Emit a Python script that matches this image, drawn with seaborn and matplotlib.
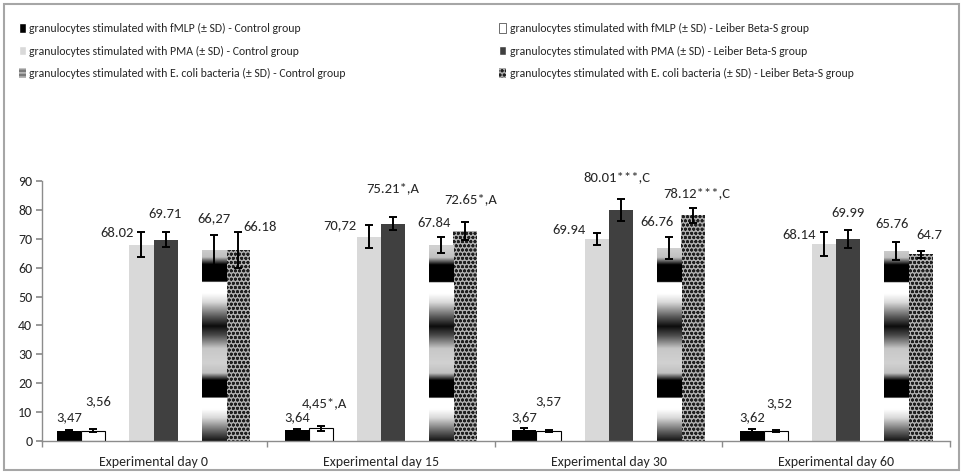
import numpy as np
import pandas as pd
import matplotlib.pyplot as plt
import seaborn as sns
from matplotlib.patches import Patch, Rectangle

sns.set_theme(style='white')
plt.rcParams['font.family'] = ['Carlito', 'Lato', 'DejaVu Sans']
plt.rcParams['hatch.linewidth'] = 0.9

days = ['Experimental day 0', 'Experimental day 15', 'Experimental day 30', 'Experimental day 60']

series = [
    'granulocytes stimulated with fMLP (± SD) - Control group',
    'granulocytes stimulated with fMLP (± SD) - Leiber Beta-S group',
    'granulocytes stimulated with PMA (± SD) - Control group',
    'granulocytes stimulated with PMA (± SD) - Leiber Beta-S group',
    'granulocytes stimulated with E. coli bacteria (± SD) - Control group',
    'granulocytes stimulated with E. coli bacteria (± SD) - Leiber Beta-S group',
]

fmlp_control = [3.47, 3.64, 3.67, 3.62]
fmlp_leiber = [3.56, 4.45, 3.57, 3.52]
pma_control = [68.02, 70.72, 69.94, 68.14]
pma_leiber = [69.71, 75.21, 80.01, 69.99]
ecoli_control = [66.27, 67.84, 66.76, 65.76]
ecoli_leiber = [66.18, 72.65, 78.12, 64.7]

fmlp_control_sd = [0.4, 0.4, 0.9, 0.5]
fmlp_leiber_sd = [0.5, 0.9, 0.3, 0.4]
pma_control_sd = [4.3, 3.9, 2.2, 4.1]
pma_leiber_sd = [2.7, 2.3, 3.7, 3.2]
ecoli_control_sd = [5.2, 2.7, 3.8, 3.1]
ecoli_leiber_sd = [6.3, 3.2, 2.6, 1.2]

fmlp_control_txt = ['3,47', '3,64', '3,67', '3,62']
fmlp_leiber_txt = ['3,56', '4,45*,A', '3,57', '3,52']
pma_control_txt = ['68.02', '70,72', '69.94', '68.14']
pma_leiber_txt = ['69.71', '75.21*,A', '80.01***,C', '69.99']
ecoli_control_txt = ['66,27', '67.84', '66.76', '65.76']
ecoli_leiber_txt = ['66.18', '72.65*,A', '78.12***,C', '64.7']

values = [fmlp_control, fmlp_leiber, pma_control, pma_leiber, ecoli_control, ecoli_leiber]
sds = [fmlp_control_sd, fmlp_leiber_sd, pma_control_sd, pma_leiber_sd, ecoli_control_sd, ecoli_leiber_sd]
texts = [fmlp_control_txt, fmlp_leiber_txt, pma_control_txt, pma_leiber_txt, ecoli_control_txt, ecoli_leiber_txt]

# label offsets in pixels (dx, dy) from the top centre of each bar
label_offsets = [
    [(0, 14), (0, 13), (0, 13), (0, 13)],
    [(5, 30), (4, 25), (0, 30), (3, 28)],
    [(-24, 12), (-29, 12), (-28, 9), (-25, 9)],
    [(0, 26), (0, 36), (-4, 33), (0, 26)],
    [(0, 31), (-7, 22), (-12, 26), (-4, 27)],
    [(22, 23), (5, 32), (4, 22), (9, 19)],
]

# two spacer levels keep the three pairs apart inside each group
gap1, gap2 = ' ', '  '
hue_order = [series[0], series[1], gap1, series[2], series[3], gap2, series[4], series[5]]

rows = []
for s, vals in zip(series, values):
    for d, v in zip(days, vals):
        rows.append({'day': d, 'series': s, 'value': v})
for g in (gap1, gap2):
    for d in days:
        rows.append({'day': d, 'series': g, 'value': 0.0})
df = pd.DataFrame(rows)

palette = {series[0]: 'black', series[1]: 'white', gap1: 'white',
           series[2]: '#d9d9d9', series[3]: '#404040', gap2: 'white',
           series[4]: '#808080', series[5]: '#b0b0b0'}

fig = plt.figure(figsize=(9.63, 4.73), dpi=100)
ax = fig.add_axes([0.0436, 0.0677, 0.943, 0.5496])

sns.barplot(data=df, x='day', y='value', hue='series', hue_order=hue_order,
            order=days, palette=palette, width=0.846, errorbar=None,
            saturation=1, linewidth=0, legend=False, ax=ax)

ax.set_xlim(-0.49, 3.5)
ax.set_ylim(0, 90)

# banded gradient used for the E. coli control bars (repeats every 40 units)
ys = np.linspace(0, 90, 1801)
pos = (ys - 15) % 40
keys = [0, 6, 8.5, 12, 17, 21.5, 24.7, 28, 33, 36, 40]
greys = [0.0, 0.0, 0.75, 0.82, 0.78, 0.3, 0.05, 0.35, 0.85, 1.0, 1.0]
band = np.interp(pos, keys, greys)[:, None] * np.ones((1, 4))

series_idx = [0, 1, 3, 4, 6, 7]
for k, ci in enumerate(series_idx):
    cont = ax.containers[ci]
    xs = [p.get_x() + p.get_width() / 2 for p in cont.patches]
    hs = [p.get_height() for p in cont.patches]
    for p in cont.patches:
        if k == 1:
            p.set_edgecolor('black')
            p.set_linewidth(0.8)
        if k == 4:
            p.set_facecolor('none')
            im = ax.imshow(band, extent=[p.get_x(), p.get_x() + p.get_width(), 0, 90],
                           origin='lower', cmap='gray', vmin=0, vmax=1,
                           aspect='auto', zorder=p.get_zorder(), interpolation='bilinear')
            im.set_clip_path(p)
        if k == 5:
            p.set_edgecolor('#202020')
            p.set_hatch('oooo')
            p.set_linewidth(0)
    ax.errorbar(xs, hs, yerr=sds[k], fmt='none', ecolor='black',
                elinewidth=1.4, capsize=3, capthick=1.4, zorder=5)
    for x, h, t, (dx, dy) in zip(xs, hs, texts[k], label_offsets[k]):
        ax.annotate(t, xy=(x, h), xytext=(dx, dy), textcoords='offset pixels',
                    ha='center', va='center', fontsize=10.5, color='#262626')

ax.set_xlim(-0.49, 3.5)
ax.set_ylim(0, 90)
ax.set_yticks(range(0, 91, 10))
ax.set_xlabel('')
ax.set_ylabel('')
for side in ('top', 'right'):
    ax.spines[side].set_visible(False)
for side in ('left', 'bottom'):
    ax.spines[side].set_color('#8c8c8c')
    ax.spines[side].set_linewidth(1)
ax.set_xticks([-0.49, 0.5, 1.5, 2.5, 3.5], minor=True)
ax.tick_params(axis='x', which='major', length=0, labelsize=10, labelcolor='#262626', pad=11)
ax.tick_params(axis='x', which='minor', length=4, color='#8c8c8c', bottom=True)
ax.tick_params(axis='y', length=4, color='#8c8c8c', left=True, labelsize=10,
               labelcolor='#262626', pad=3)

handles = [
    Patch(facecolor='black'),
    Patch(facecolor='#d9d9d9'),
    Patch(facecolor='#7a7a7a', hatch='----', edgecolor='#d0d0d0', linewidth=0),
    Patch(facecolor='white', edgecolor='#555555', linewidth=0.6),
    Patch(facecolor='#404040'),
    Patch(facecolor='#b0b0b0', hatch='oooo', edgecolor='#202020', linewidth=0),
]
labels = [series[0], series[2], series[4], series[1], series[3], series[5]]
fig.legend(handles, labels, ncol=2, loc='upper left', bbox_to_anchor=(8 / 963, 1 - 12 / 473),
           frameon=False, fontsize=8.5, handlelength=0.6, handleheight=0.9,
           handletextpad=0.3, labelspacing=1.0, columnspacing=13.0,
           labelcolor='#262626')

fig.add_artist(Rectangle((4 / 963, 3 / 473), 955 / 963, 466 / 473, transform=fig.transFigure,
                         fill=False, edgecolor='#a6a6a6', linewidth=1.5))

fig.savefig('out.png', dpi=100)
